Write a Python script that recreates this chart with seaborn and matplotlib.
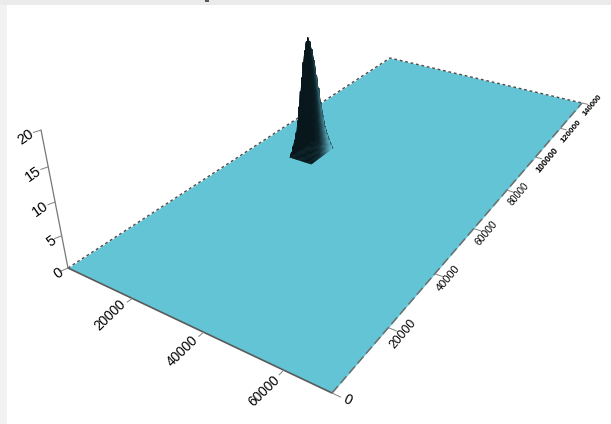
import numpy as np
import matplotlib
matplotlib.use("Agg")
import matplotlib.pyplot as plt
from matplotlib.patches import Rectangle
import seaborn as sns

# ---- data ----
x_ticks = [20000, 40000, 60000]
y_ticks = [0, 20000, 40000, 60000, 80000, 100000, 120000, 140000]
z_ticks = [0, 5, 10, 15, 20]
x_range = [0, 71000]
y_range = [0, 140000]
peak_x = 16000
peak_y = 70000
peak_half_x = 3700
peak_half_y = 5300
# height of the peak on each concentric ring, centre to foot
peak_profile = [20.0, 19.3, 17.9, 16.0, 13.5, 11.2, 8.6, 6.2, 4.2, 2.9, 1.8, 0.8, 0.0]

# ---- style ----
W, H = 611, 424
PLANE = "#63c4d6"
sns.set_theme(style="white")
plt.rcParams["font.family"] = ["Liberation Sans", "DejaVu Sans"]

fig = plt.figure(figsize=(W / 100, H / 100), dpi=100, facecolor="white")
fig.add_artist(Rectangle((0, 0), 7 / W, 1, transform=fig.transFigure, fc="#f2f2f2", ec="none"))
fig.add_artist(Rectangle((0, 1 - 5 / H), 1, 5 / H, transform=fig.transFigure, fc="#ebebeb", ec="none"))
fig.add_artist(Rectangle((205 / W, 1 - 1.5 / H), 4 / W, 1.5 / H, transform=fig.transFigure, fc="#555555", ec="none"))

ax = fig.add_axes([0, 0, 1, 1], projection="3d", computed_zorder=False)
ax.set_axis_off()
ax.patch.set_visible(False)

# ---- perspective camera (pixel space), plane corners solved from the picture ----
corners = np.array([(68, 268), (332, 393), (582, 103), (390, 58)], float)
xmax, ymax = x_range[1], y_range[1]
d1 = corners[1] - corners[2]
d2 = corners[3] - corners[2]
s = corners[0] - corners[1] + corners[2] - corners[3]
g, h = np.linalg.solve(np.column_stack([d1, d2]), s)
col_x = np.r_[corners[1] - corners[0] + g * corners[1], g] / xmax
col_y = np.r_[corners[3] - corners[0] + h * corners[3], h] / ymax
col_z = np.array([-1.52, -7.44, -0.00417])
col_t = np.r_[corners[0], 1.0]
P = np.column_stack([col_x, col_y, col_z, col_t])


def w_of(x, y, z=0):
    return P[2] @ np.array([x, y, z, 1.0])


def get_proj():
    flip = np.array([[1, 0, 0], [0, -1, H], [0, 0, 1]], float)
    R = ax.transData.inverted().get_matrix() @ flip @ P
    return np.vstack([R[0], R[1], [0, 0, 0, -1], R[2]])


ax.get_proj = get_proj


def label(x, y, z, s, rotation, size, **kw):
    p = P @ np.array([x, y, z, 1.0])
    ax.text2D(p[0] / p[2] / W, 1 - p[1] / p[2] / H, s, transform=fig.transFigure,
              rotation=rotation, ha="center", va="center", rotation_mode="anchor",
              fontsize=size, color="black", **kw)


# ---- plane ----
px, py = np.meshgrid(x_range, y_range)
plane = ax.plot_surface(px, py, np.zeros_like(px, float), color=PLANE, shade=False,
                        linewidth=0, zorder=1)
plane.set_clip_on(False)

# ---- peak ----
n = len(peak_profile) - 1
idx = np.arange(-n, n + 1)
I, J = np.meshgrid(idx, idx, indexing="ij")
ring = np.maximum(np.abs(I), np.abs(J))
Z = np.array(peak_profile)[ring]
Xp = peak_x + I / n * peak_half_x
Yp = peak_y + J / n * peak_half_y

ramp = np.array(sns.blend_palette(["#08171c", "#0f262c", "#2f5a65", "#539fae", "#6fd2e2"], n_colors=101))
C = np.zeros((2 * n, 2 * n, 3))
C[:] = ramp[0]
for a in range(2 * n):
    for b in range(2 * n):
        i, j = a - n + 0.5, b - n + 0.5
        if i > abs(j):  # +x face, lit from the right
            t = (j + i) / (2 * i)
            height = 1 - i / n
            C[a, b] = ramp[int(100 * t ** (1.2 + 1.6 * height) * (1 - 0.5 * height))]
peak = ax.plot_surface(Xp, Yp, Z, facecolors=C, shade=False, rstride=1, cstride=1,
                       linewidth=0.3, zorder=3)
peak.set_clip_on(False)


# ---- edges ----
def edge(x, y, z, **kw):
    ln, = ax.plot(x, y, z, clip_on=False, **kw)
    return ln


edge([0, 0, xmax], [0, ymax, ymax], [0, 0, 0], color="#4a4a4a", lw=1.0, ls=(0, (2, 2)), zorder=2)
edge([0, xmax], [0, 0], [0, 0], color="#5a5a5a", lw=1.2, zorder=2)
edge([xmax, xmax], [0, ymax], [0, 0], color="#6e6e6e", lw=1.1, ls=(0, (6, 2.5)), zorder=2)
edge([0, 0], [0, 0], [0, z_ticks[-1]], color="#777777", lw=0.9, zorder=2)

# ---- ticks and labels ----
TICK = "#808080"
for v in x_ticks:
    edge([v, v], [0, -1400], [0, 0], color=TICK, lw=0.7, zorder=2)
    label(v, -6000, 0, str(v), 44, 9.8)

for v in y_ticks:
    edge([xmax, xmax + 1900], [v, v], [0, 0], color=TICK, lw=0.7, zorder=2)
    size = 8.0 / w_of(xmax, v)
    label(xmax + 3400, v, 0, str(v), 50 if v else -25, size,
          fontweight="bold" if size < 6.5 else "normal")

for v in z_ticks:
    edge([0, -450], [0, -1500], [v, v], color=TICK, lw=0.7, zorder=2)
    off = -3500 if v >= 10 else -2400
    label(-300, off, v, str(v), 35, 10.5)

fig.savefig("out.png", dpi=100)
